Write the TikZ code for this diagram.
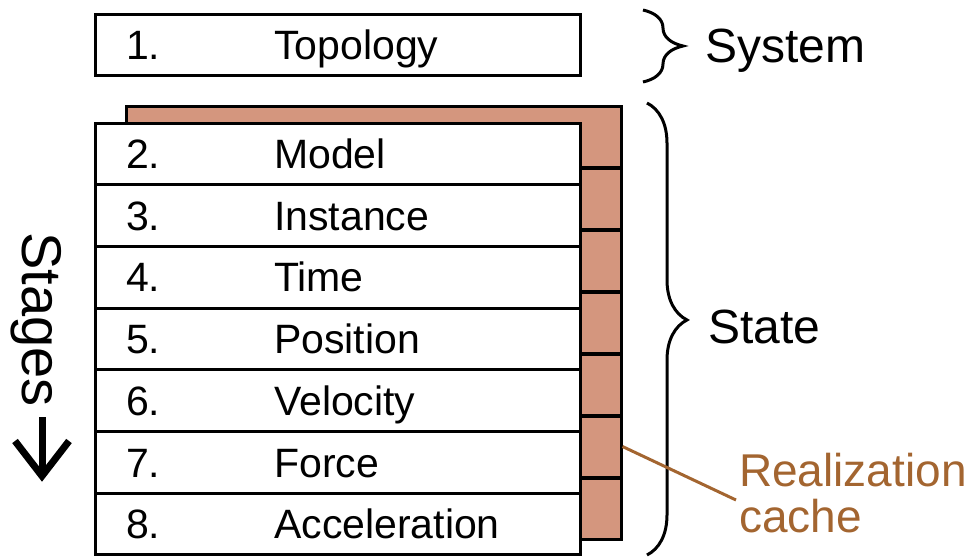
\documentclass[tikz,border=0pt]{standalone}
\usepackage{fontspec}
\setmainfont{Liberation Sans}
\usetikzlibrary{decorations.pathreplacing}

\definecolor{cachefill}{RGB}{212,150,126}
\definecolor{cachebrown}{RGB}{163,101,48}

\begin{document}
\begin{tikzpicture}[x=1pt, y=-1pt,
        rowbox/.style={draw, line width=3pt, fill=white, minimum width=485pt, minimum height=61.7pt, inner sep=0pt},
        cachebox/.style={draw, line width=3pt, fill=cachefill, minimum width=495pt, minimum height=61pt, inner sep=0pt},
        rowtext/.style={anchor=base west, inner sep=0pt, font=\fontsize{41}{41}\selectfont},
        sidetext/.style={anchor=base west, inner sep=0pt, font=\fontsize{48}{48}\selectfont},
        sidebrace/.style={decorate, decoration={brace, amplitude=40pt}, line width=3pt}]

        \useasboundingbox (0,0) rectangle (975,557);

        % system stage
        \node[rowbox] (row1) at (337.5, 45) {};
        \node[rowtext] (num1) at (126, 59) {1.};
        \node[rowtext] (name1) at (274, 59) {Topology};

        % realization cache, one box behind each state stage
        \foreach \i in {1,...,7}{
            \node[cachebox] (cache\i) at (373.5, 74.5+62*\i) {};
        }

        % state stages
        \foreach \n/\stagename [count=\i] in {%
            2/Model,
            3/Instance,
            4/Time,
            5/Position,
            6/Velocity,
            7/Force,
            8/Acceleration%
        }{
            \node[rowbox] (row\n) at (337.5, 92.15+61.7*\i) {};
            \node[rowtext] (num\n) at (126, 106.85+61.7*\i) {\n.};
            \node[rowtext] (name\n) at (274, 106.85+61.7*\i) {\stagename};
        }

        % braces and their labels
        \draw[sidebrace] (643,10) -- (643,82);
        \node[sidetext] (system) at (705, 62) {System};
        \draw[sidebrace, decoration={aspect=0.48}] (647,103) -- (647,555);
        \node[sidetext] (state) at (708, 343) {State};

        \node[anchor=north west, inner sep=0pt, align=left, text=cachebrown,
              font=\fontsize{46}{46}\selectfont] (cachelabel) at (739, 453) {Realization\\cache};
        \coordinate (cacheend) at (736, 500);
        \draw[cachebrown, line width=3pt] (cache6.east) -- (cacheend);

        % stage direction
        \node[rotate=-90, anchor=base west, inner sep=0pt, font=\fontsize{56}{56}\selectfont] (stages) at (22, 232) {Stages};
        \coordinate (stagestop) at (42, 417);
        \coordinate (stagestip) at (42, 476);
        \draw[line width=7pt] (stagestop) -- (stagestip);
        \draw[line width=7pt, miter limit=4] (15, 441) -- (stagestip) -- (69, 441);

    \end{tikzpicture}
\end{document}
